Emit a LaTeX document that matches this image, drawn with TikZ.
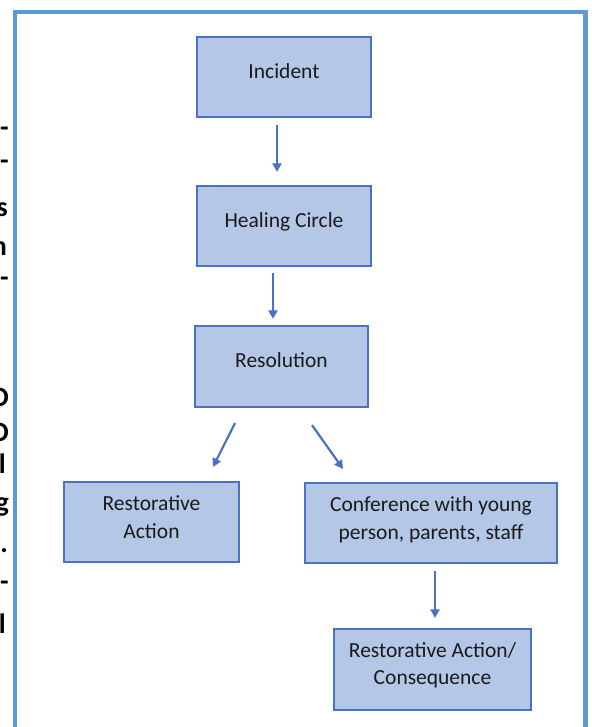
\documentclass[tikz,border=0pt]{standalone}
\usepackage{fontspec}
\setmainfont{Carlito}
\usetikzlibrary{arrows.meta,calc}
\definecolor{boxfill}{HTML}{B4C7E7}
\definecolor{boxline}{HTML}{4A72C0}
\definecolor{frameblue}{HTML}{5B9BD5}
\definecolor{txt}{HTML}{1A1A1A}
\tikzset{
  flowbox/.style={draw=boxline, fill=boxfill, line width=2.2pt, rectangle, inner sep=0pt},
  boxtext/.style={align=center, text=txt, inner sep=0pt, font=\fontsize{21.5}{27.5}\selectfont},
  flowarrow/.style={draw=boxline, line width=2.2pt, -{Triangle[length=8.5pt,width=9pt]}},
  frag/.style={text=black, inner sep=0pt, font=\bfseries\fontsize{28}{34}\selectfont}
}
\begin{document}
\begin{tikzpicture}[x=1pt,y=-1pt]
\useasboundingbox (0,0) rectangle (591,727);
\fill[white] (0,0) rectangle (591,727);
% cropped text fragments at the left edge
\node[frag, anchor=base east] (f1) at (9,137) {-};
\node[frag, anchor=base east] (f2) at (9,170) {-};
\node[frag, anchor=base east] (f3) at (8,217) {s};
\node[frag, anchor=base east] (f4) at (7,255) {n};
\node[frag, anchor=base east] (f5) at (9,286) {-};
\node[frag, anchor=base east] (f6) at (9,406) {O};
\node[frag, anchor=base east] (f7) at (9,441) {O};
\node[frag, anchor=base east] (f8) at (6,473) {l};
\node[frag, anchor=base east] (f9) at (9,511) {g};
\node[frag, anchor=base east] (f10) at (8,552) {.};
\node[frag, anchor=base east] (f11) at (9,590) {-};
\node[frag, anchor=base east] (f12) at (6,633) {l};
% outer frame
\draw[frameblue, line width=4.5pt] (15,12) rectangle (585.5,760);
% boxes
\node[flowbox, minimum width=174pt, minimum height=80pt] (b1) at (284,77) {};
\node[flowbox, minimum width=174pt, minimum height=80pt] (b2) at (284,226) {};
\node[flowbox, minimum width=173pt, minimum height=81pt] (b3) at (281.5,366.5) {};
\node[flowbox, minimum width=175pt, minimum height=80pt] (b4) at (151.5,522) {};
\node[flowbox, minimum width=252pt, minimum height=80pt] (b5) at (431,523) {};
\node[flowbox, minimum width=197pt, minimum height=81pt] (b6) at (432.5,669.5) {};
% texts
\node[boxtext] (t1) at ([yshift=6pt]b1.center) {Incident};
\node[boxtext] (t2) at ([yshift=4pt]b2.center) {Healing Circle};
\node[boxtext] (t3) at ([yshift=6pt]b3.center) {Resolution};
\node[boxtext] (t4) at ([yshift=5pt]b4.center) {Restorative\\Action};
\node[boxtext] (t5) at ([yshift=3pt]b5.center) {Conference with young\\person, parents, staff};
\node[boxtext] (t6) at ([yshift=4pt]b6.center) {Restorative Action/\\Consequence};
% arrows
\draw[flowarrow] ([xshift=-7pt,yshift=-7pt]b1.south) -- ([xshift=-7pt,yshift=13pt]b2.north);
\draw[flowarrow] ([xshift=-11pt,yshift=-6pt]b2.south) -- ([xshift=-8.5pt,yshift=6pt]b3.north);
\draw[flowarrow] ($(b3.south)+(-46.5,15)$) -- ($(b4.north)+(61.5,-14)$);
\draw[flowarrow] ($(b3.south)+(30.5,17)$) -- ($(b5.north)+(-88,-13)$);
\draw[flowarrow] ($(b5.south)+(4,7)$) -- ($(b6.north)+(2.5,-10)$);
\end{tikzpicture}
\end{document}
